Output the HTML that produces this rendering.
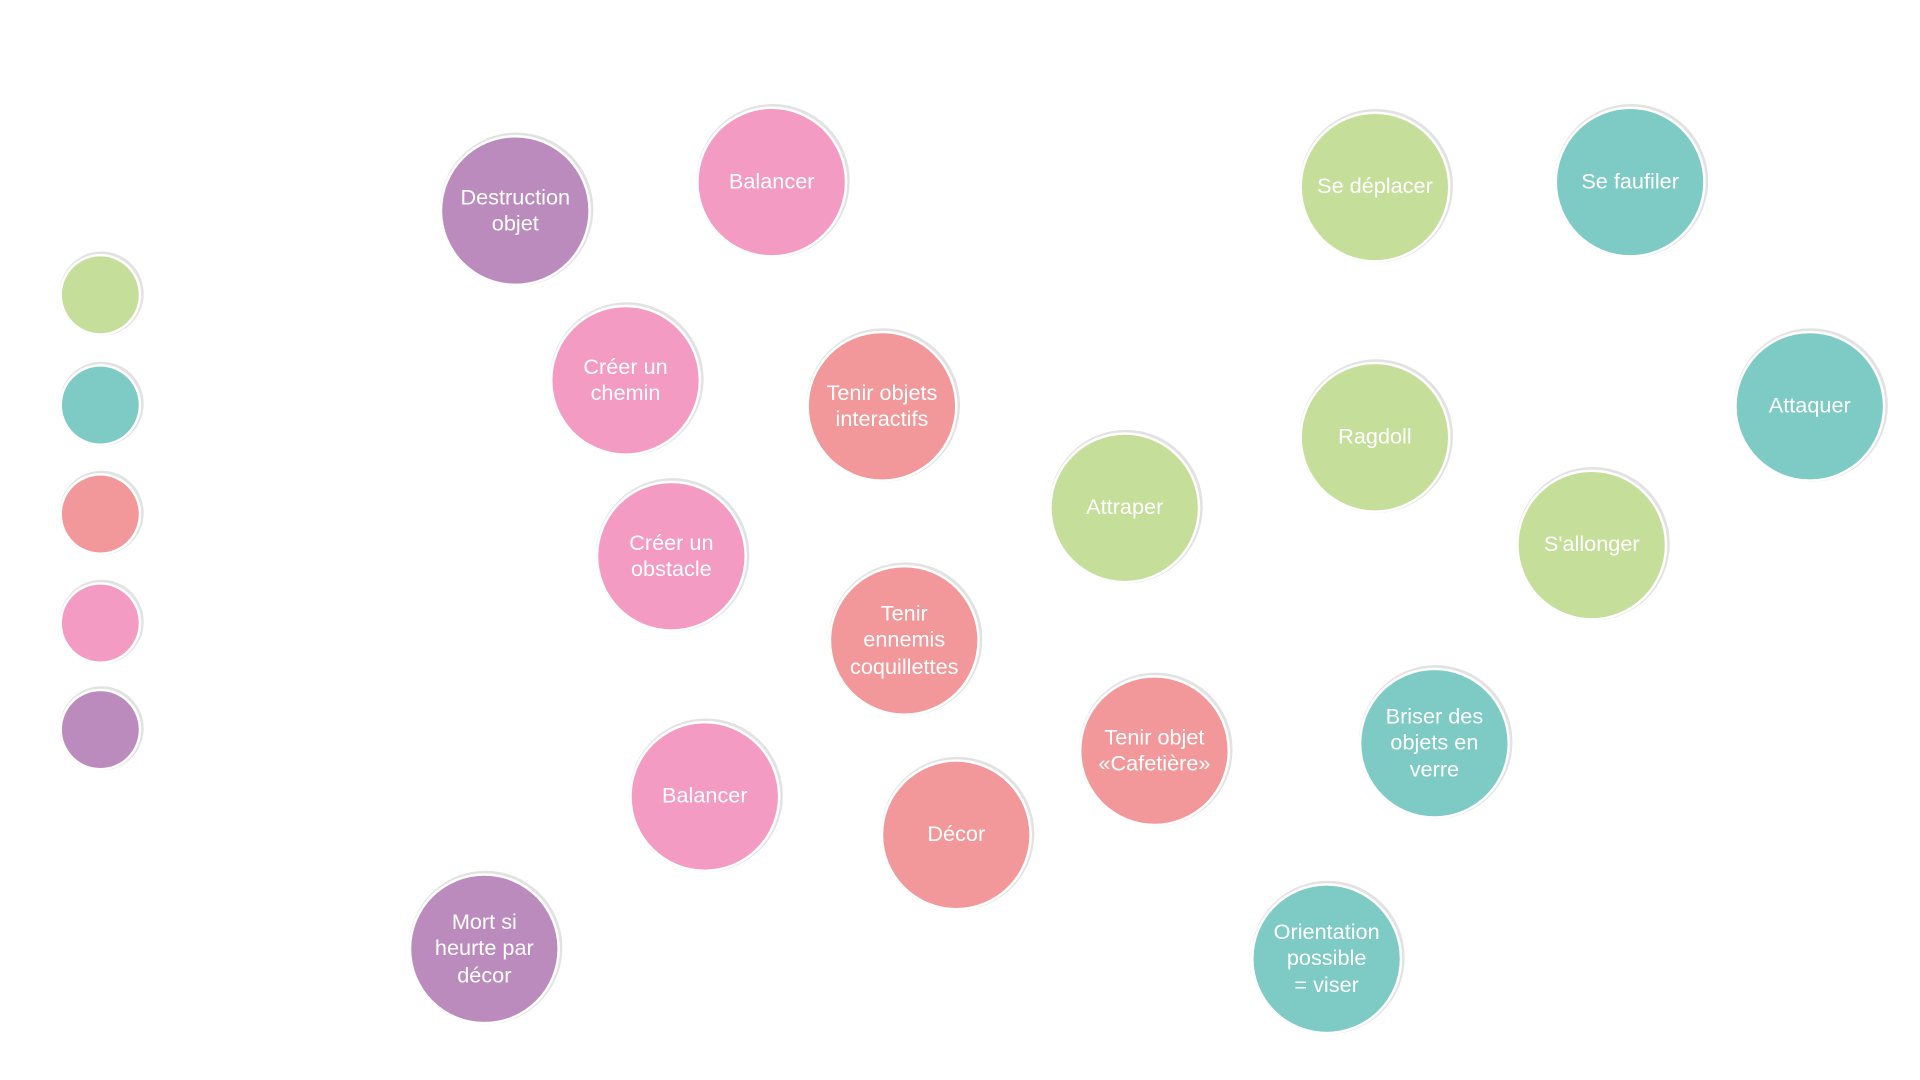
<!DOCTYPE html>
<html><head><meta charset="utf-8">
<style>
html,body{margin:0;padding:0;background:#fff;width:1920px;height:1080px;overflow:hidden}
#w{position:absolute;left:0;top:0;width:1550px;height:872px;transform:scale(1.2387);transform-origin:0 0}
.c{position:absolute;width:118px;height:118px;border-radius:50%;display:flex;align-items:center;justify-content:center;text-align:center;color:#fff;font-family:"Liberation Sans",sans-serif;font-size:17.5px;line-height:21.5px;box-shadow:0 0 0 2px #fff,1px -1px 0 3px #e2e2e2}
.l{width:62px;height:62px}
.g{background:#c5df9a}.t{background:#7ecbc5}.s{background:#f3989a}.p{background:#f39bc2}.v{background:#bc8bbd}
</style></head><body><div id="w">
<div class="c l g" style="left:50px;top:207px"></div>
<div class="c l t" style="left:50px;top:296px"></div>
<div class="c l s" style="left:50px;top:384px"></div>
<div class="c l p" style="left:50px;top:472px"></div>
<div class="c l v" style="left:50px;top:558px"></div>

<div class="c v" style="left:357px;top:111px">Destruction<br>objet</div>
<div class="c p" style="left:564px;top:88px">Balancer</div>
<div class="c p" style="left:446px;top:248px">Créer un<br>chemin</div>
<div class="c s" style="left:653px;top:269px">Tenir objets<br>interactifs</div>
<div class="c p" style="left:483px;top:390px">Créer un<br>obstacle</div>
<div class="c s" style="left:671px;top:458px">Tenir<br>ennemis<br>coquillettes</div>
<div class="c p" style="left:510px;top:584px">Balancer</div>
<div class="c s" style="left:713px;top:615px">Décor</div>
<div class="c v" style="left:332px;top:707px">Mort si<br>heurte par<br>décor</div>
<div class="c s" style="left:873px;top:547px">Tenir objet<br>«Cafetière»</div>
<div class="c g" style="left:849px;top:351px">Attraper</div>
<div class="c g" style="left:1051px;top:92px">Se déplacer</div>
<div class="c t" style="left:1257px;top:88px">Se faufiler</div>
<div class="c g" style="left:1051px;top:294px">Ragdoll</div>
<div class="c t" style="left:1402px;top:269px">Attaquer</div>
<div class="c g" style="left:1226px;top:381px">S'allonger</div>
<div class="c t" style="left:1099px;top:541px">Briser des<br>objets en<br>verre</div>
<div class="c t" style="left:1012px;top:715px">Orientation<br>possible<br>= viser</div>
</div></body></html>
